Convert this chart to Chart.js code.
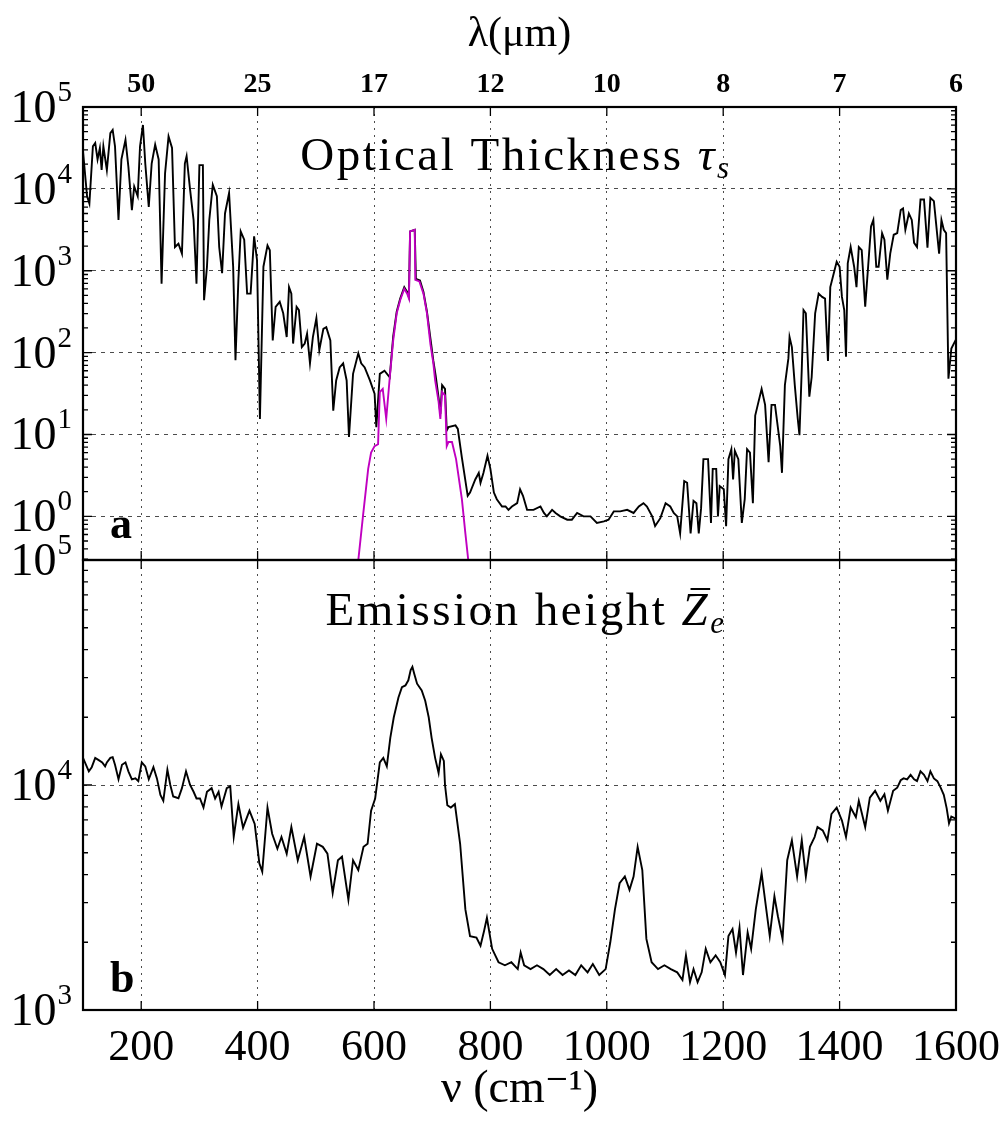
<!DOCTYPE html>
<html>
<head>
<meta charset="utf-8">
<script src="https://cdn.jsdelivr.net/npm/chart.js@4.4.0/dist/chart.umd.min.js"></script>
<style>
  html, body { margin: 0; padding: 0; background: #fff; }
  #wrap { position: relative; width: 1001px; height: 1122px; overflow: hidden; background: #fff; }
  #wrap canvas { position: absolute; left: 0; }
  #top { top: 0; }
  #bot { top: 520px; }
</style>
</head>
<body>
<div id="wrap">
  <canvas id="top" width="1001" height="562"></canvas>
  <canvas id="bot" width="1001" height="602"></canvas>
</div>
<script>
// wavenumber ticks (cm-1) and the matching wavelength labels (um) on the top axis
const nuTicks = [200, 400, 600, 800, 1000, 1200, 1400, 1600];
const lambdaLabels = ['50', '25', '17', '12', '10', '8', '7', '6'];
const tauDecades = [0, 1, 2, 3, 4, 5];
const zeDecades = [3, 4, 5];

// panel a: optical thickness, all gases (black)
const tauNu = [
  100, 107, 111, 117, 121, 125, 129, 132, 135, 141,
  147, 151, 155, 161, 166, 173, 178, 184, 188, 194,
  198, 203, 207, 213, 218, 224, 230, 235, 241, 247,
  253, 258, 264, 270, 275, 278, 284, 290, 295, 300,
  306, 308, 313, 317, 323, 330, 334, 339, 344, 351,
  358, 362, 367, 371, 377, 382, 388, 394, 399, 404,
  410, 417, 421, 426, 431, 438, 444, 450, 454, 458,
  461, 467, 471, 476, 481, 485, 490, 495, 501, 506,
  513, 518, 525, 530, 535, 541, 547, 553, 557, 564,
  573, 578, 584, 593, 601, 604, 610, 618, 627, 633,
  639, 645, 652, 657, 660, 662, 670, 672, 679, 685,
  691, 697, 702, 706, 711, 714, 717, 722, 725, 728,
  740, 744, 751, 761, 765, 774, 780, 783, 788, 795,
  800, 806, 811, 820, 826, 831, 837, 846, 851, 856,
  863, 874, 886, 892, 897, 906, 912, 920, 932, 940,
  949, 960, 972, 983, 995, 1003, 1012, 1023, 1035, 1046,
  1055, 1063, 1069, 1078, 1083, 1092, 1101, 1109, 1115, 1121,
  1126, 1133, 1138, 1144, 1149, 1154, 1158, 1162, 1166, 1174,
  1179, 1182, 1188, 1191, 1194, 1201, 1205, 1209, 1214, 1217,
  1220, 1226, 1232, 1237, 1241, 1246, 1251, 1255, 1260, 1266,
  1272, 1278, 1283, 1289, 1298, 1301, 1306, 1312, 1314, 1318,
  1323, 1328, 1331, 1335, 1338, 1342, 1346, 1348, 1352, 1358,
  1364, 1370, 1375, 1380, 1384, 1390, 1395, 1400, 1404, 1408,
  1411, 1414, 1419, 1425, 1429, 1433, 1438, 1444, 1449, 1454,
  1458, 1463, 1467, 1473, 1477, 1482, 1487, 1493, 1499, 1505,
  1509, 1513, 1519, 1524, 1528, 1533, 1539, 1545, 1551, 1556,
  1562, 1568, 1571, 1575, 1579, 1583, 1587, 1592, 1600
];
const tauVals = [
  28800, 8130, 6610, 33100, 36300, 22900, 31600, 17000, 33100, 17000,
  47900, 52500, 33100, 4170, 22900, 39800, 18600, 5500, 10700, 8130,
  33100, 60300, 20400, 6030, 20400, 34700, 22900, 692, 15500, 43700,
  31600, 1950, 2140, 1620, 20400, 25100, 9770, 4170, 692, 19500,
  19500, 437, 1120, 4170, 11200, 8130, 1950, 933, 5010, 8910,
  1120, 81, 776, 3020, 2400, 525, 525, 2630, 1350, 15.5,
  1120, 2040, 1780, 141, 363, 417, 302, 155, 631, 525,
  129, 363, 331, 117, 129, 170, 74, 155, 263, 107,
  195, 204, 141, 19.5, 45.7, 66, 74, 45.7, 9.3, 55,
  98, 74, 66, 45.7, 31.6, 12.3, 55, 60, 50, 158,
  316, 457, 631, 550, 479, 3020, 3160, 794, 759, 550,
  316, 148, 79, 52, 28, 17.8, 40, 36, 11.2, 12.3,
  12.9, 11.7, 5.2, 1.78, 1.95, 2.82, 3.39, 2.57, 3.39, 5.5,
  3.8, 1.95, 1.62, 1.32, 1.32, 1.2, 1.32, 1.45, 2.14, 1.78,
  1.2, 1.2, 1.32, 1.1, 1.0, 1.2, 1.1, 1.0, 0.91, 0.91,
  1.1, 1.0, 1.0, 0.83, 0.87, 0.91, 1.15, 1.15, 1.2, 1.1,
  1.32, 1.45, 1.32, 1.0, 0.76, 0.95, 1.45, 1.32, 1.1, 1.0,
  0.62, 2.69, 2.57, 0.62, 1.55, 1.45, 0.62, 1.26, 5.0, 5.0,
  0.83, 3.8, 3.8, 1.0, 2.34, 2.14, 0.76, 5.0, 6.6, 2.82,
  6.3, 5.0, 0.83, 1.62, 6.6, 6.0, 1.45, 17, 24, 36,
  23, 4.6, 23, 23, 7.2, 3.4, 40, 85, 155, 117,
  40, 15.8, 9.8, 63, 331, 302, 63, 29, 50, 302,
  525, 479, 457, 79, 631, 933, 1290, 1120, 479, 331,
  89, 1230, 1950, 1120, 631, 1950, 1780, 363, 1120, 3470,
  4170, 1120, 1120, 2880, 2400, 776, 1620, 2750, 2880, 5500,
  5750, 3160, 5010, 4170, 2190, 1950, 7410, 7410, 1910, 7760,
  7080, 2630, 1620, 4170, 3160, 2880, 48, 112, 145
];

// panel a: CO2 band alone (magenta)
const co2Nu = [
  573, 581, 590, 595, 601, 607, 610, 615, 621, 627,
  633, 639, 645, 652, 657, 660, 662, 670, 671, 678,
  685, 691, 697, 702, 705, 711, 714, 717, 722, 725,
  728, 734, 741, 751, 757, 762
];
const co2Vals = [
  0.29, 1.0, 3.8, 6.0, 7.2, 7.6, 33, 36, 15.5, 49,
  141, 302, 437, 603, 525, 457, 3020, 3160, 776, 741,
  525, 302, 126, 74, 46, 25, 15.5, 33, 30, 7.2,
  8.1, 8.1, 5.0, 1.62, 0.62, 0.29
];

// panel b: emission height
const zeNu = [
  100, 110, 115, 121, 127, 133, 138, 141, 147, 151,
  155, 161, 167, 173, 178, 184, 190, 195, 201, 207,
  213, 221, 227, 233, 238, 245, 250, 255, 264, 270,
  277, 284, 290, 295, 301, 307, 313, 321, 327, 333,
  338, 347, 353, 359, 367, 375, 386, 395, 403, 408,
  417, 425, 434, 441, 450, 458, 469, 480, 491, 502,
  512, 520, 529, 538, 545, 556, 564, 573, 582, 589,
  595, 602, 610, 616, 622, 628, 634, 642, 648, 654,
  659, 663, 666, 669, 674, 682, 688, 694, 699, 705,
  711, 715, 720, 722, 726, 732, 739, 748, 757, 765,
  776, 783, 789, 794, 803, 814, 825, 836, 847, 852,
  858, 869, 880, 891, 902, 913, 924, 935, 946, 956,
  967, 976, 987, 998, 1006, 1014, 1022, 1031, 1039, 1046,
  1053, 1061, 1068, 1077, 1088, 1099, 1110, 1121, 1130, 1136,
  1143, 1149, 1156, 1163, 1170, 1178, 1187, 1195, 1203, 1209,
  1216, 1222, 1228, 1234, 1242, 1248, 1256, 1266, 1274, 1280,
  1288, 1294, 1302, 1310, 1318, 1327, 1335, 1342, 1349, 1357,
  1362, 1371, 1379, 1386, 1395, 1404, 1411, 1419, 1428, 1433,
  1444, 1452, 1461, 1470, 1477, 1483, 1492, 1499, 1505, 1510,
  1516, 1522, 1528, 1533, 1539, 1545, 1551, 1556, 1562, 1568,
  1574, 1579, 1584, 1588, 1592, 1600
];
const zeVals = [
  13200, 11500, 12000, 13200, 12900, 12600, 12100, 12600, 13200, 13300,
  12300, 10600, 12300, 12600, 11500, 10600, 10700, 10400, 12600, 12100,
  10600, 12000, 10700, 9040, 8510, 11700, 10000, 8890, 8730, 9680,
  11500, 10000, 9330, 8710, 8710, 7940, 9330, 9680, 8710, 9330,
  8020, 9680, 9860, 5890, 8220, 6460, 7690, 6710, 4490, 4120,
  7940, 6070, 5210, 5870, 4950, 6500, 4630, 5870, 3920, 5480,
  5310, 4950, 3310, 4630, 4800, 3090, 4630, 4190, 5310, 5480,
  7690, 8710, 12600, 13200, 12100, 16200, 20000, 24500, 27200, 27700,
  29200, 32400, 33500, 31300, 28200, 26300, 23700, 20000, 16200, 13200,
  11300, 13700, 12800, 10000, 8130, 7940, 8220, 5480, 2800, 2130,
  2100, 1930, 2240, 2570, 1870, 1630, 1580, 1630, 1520, 1800,
  1580, 1520, 1580, 1520, 1430, 1520, 1430, 1500, 1430, 1580,
  1470, 1600, 1430, 1520, 2000, 2800, 3660, 3920, 3420, 3920,
  5310, 4190, 2070, 1630, 1520, 1580, 1520, 1470, 1360, 1750,
  1330, 1520, 1330, 1470, 1870, 1630, 1750, 1630, 1430, 2130,
  2290, 1800, 2320, 1430, 2210, 1870, 2800, 4060, 2800, 2130,
  3200, 2610, 2070, 4630, 5680, 3920, 5680, 3920, 5310, 5870,
  6500, 6280, 5680, 7430, 7940, 6950, 5870, 7940, 7190, 8510,
  6500, 8790, 9420, 8510, 9100, 7690, 9420, 9730, 10500, 10700,
  10600, 11100, 10600, 10400, 11500, 11100, 10400, 11500, 10700, 10400,
  9680, 9040, 7870, 6760, 7240, 7080
];

const SERIF = "'Liberation Serif', 'DejaVu Serif', serif";
const GRID = 'rgba(0,0,0,0.7)';

function pts(xs, ys) {
  return xs.map((v, i) => ({ x: v, y: ys[i] }));
}

function drawRich(ctx, parts, cx, base, spacing) {
  if ('letterSpacing' in ctx) ctx.letterSpacing = spacing + 'px';
  let w = 0;
  parts.forEach(p => { ctx.font = p.font; p.w = ctx.measureText(p.t).width; w += p.w; });
  let x = cx - w / 2;
  ctx.textAlign = 'left';
  ctx.textBaseline = 'alphabetic';
  parts.forEach(p => {
    ctx.font = p.font;
    ctx.fillText(p.t, x, base + (p.dy || 0));
    if (p.bar) ctx.fillRect(x + 9, base - 37, p.w - 9, 2);
    x += p.w;
  });
  if ('letterSpacing' in ctx) ctx.letterSpacing = '0px';
}

// frame, inward ticks, 10^n labels, panel title and letter
const panelPlugin = {
  id: 'panel',
  afterDraw(chart, args, o) {
    const { ctx, chartArea: a } = chart;
    const x = chart.scales.x, y = chart.scales.y;
    ctx.save();
    ctx.strokeStyle = '#000';
    ctx.lineWidth = 1.3;
    ctx.beginPath();
    nuTicks.forEach(v => {
      const px = x.getPixelForValue(v);
      ctx.moveTo(px, a.top); ctx.lineTo(px, a.top + 9);
      ctx.moveTo(px, a.bottom); ctx.lineTo(px, a.bottom - 9);
    });
    const e0 = Math.floor(Math.log10(y.min)), e1 = Math.ceil(Math.log10(y.max));
    for (let e = e0; e < e1; e++) {
      for (let m = 1; m < 10; m++) {
        const v = m * Math.pow(10, e);
        if (v < y.min || v > y.max) continue;
        const py = y.getPixelForValue(v);
        const len = m === 1 ? 9 : 5;
        ctx.moveTo(a.left, py); ctx.lineTo(a.left + len, py);
        ctx.moveTo(a.right, py); ctx.lineTo(a.right - len, py);
      }
    }
    ctx.stroke();
    ctx.lineWidth = 2.2;
    ctx.strokeRect(a.left, a.top, a.right - a.left, a.bottom - a.top);

    ctx.fillStyle = '#000';
    o.decades.forEach(n => {
      const py = y.getPixelForValue(Math.pow(10, n));
      ctx.textAlign = 'right';
      ctx.textBaseline = 'alphabetic';
      ctx.font = '29px ' + SERIF;
      const ew = ctx.measureText(String(n)).width;
      ctx.fillText(String(n), 72, py - 6);
      ctx.font = '46px ' + SERIF;
      ctx.fillText('10', 72 - ew - 1, py + 15);
    });

    drawRich(ctx, o.title, o.titleX, a.top + o.titleDy, 2.5);
    ctx.font = 'bold 44px ' + SERIF;
    ctx.textAlign = 'left';
    ctx.fillText(o.letter, 110, a.bottom - o.letterDy);
    ctx.restore();
  }
};

function xScale(position, extra) {
  return Object.assign({
    type: 'linear', position: position, min: 100, max: 1600,
    afterBuildTicks: s => { s.ticks = nuTicks.map(v => ({ value: v })); },
    grid: { color: GRID, lineWidth: 1, drawTicks: false },
    border: { display: false, dash: [2, 5] }
  }, extra);
}

function yScale(min, max, decades) {
  return {
    type: 'logarithmic', min: min, max: max,
    afterBuildTicks: s => { s.ticks = decades.map(n => ({ value: Math.pow(10, n) })); },
    afterFit: s => { s.width = 83; s.paddingTop = 0; s.paddingBottom = 0; },
    ticks: { display: false },
    grid: { color: GRID, lineWidth: 1, drawTicks: false },
    border: { display: false, dash: [4, 5] }
  };
}

const common = {
  responsive: false,
  animation: false,
  events: [],
  elements: { point: { radius: 0 }, line: { tension: 0, borderWidth: 1.9 } }
};

new Chart(document.getElementById('top'), {
  type: 'line',
  data: {
    datasets: [
      { data: pts(co2Nu, co2Vals), borderColor: '#c000c0' },
      { data: pts(tauNu, tauVals), borderColor: '#000' }
    ]
  },
  options: Object.assign({}, common, {
    layout: { padding: { left: 0, right: 45, top: 0, bottom: 2 } },
    plugins: {
      legend: { display: false },
      tooltip: { enabled: false },
      panel: {
        decades: tauDecades,
        title: [
          { t: 'Optical Thickness ', font: '47px ' + SERIF },
          { t: 'τ', font: 'italic 47px ' + SERIF },
          { t: 's', font: 'italic 31px ' + SERIF, dy: 8 }
        ],
        titleX: 516, titleDy: 63, letter: 'a', letterDy: 22
      }
    },
    scales: {
      x: xScale('top', {
        afterFit: s => { s.height = 107; s.paddingLeft = 0; s.paddingRight = 0; },
        ticks: {
          callback: (v, i) => lambdaLabels[i],
          font: { family: SERIF, size: 28, weight: 'bold' },
          color: '#000', padding: 5, maxRotation: 0, autoSkip: false
        },
        title: {
          display: true, text: 'λ(μm)', color: '#000',
          font: { family: SERIF, size: 42 }, padding: { top: 10, bottom: 0 }
        }
      }),
      y: yScale(0.293, 100000, tauDecades)
    }
  }),
  plugins: [panelPlugin]
});

new Chart(document.getElementById('bot'), {
  type: 'line',
  data: {
    datasets: [
      { data: pts(zeNu, zeVals), borderColor: '#000' }
    ]
  },
  options: Object.assign({}, common, {
    layout: { padding: { left: 0, right: 45, top: 40, bottom: 0 } },
    plugins: {
      legend: { display: false },
      tooltip: { enabled: false },
      panel: {
        decades: zeDecades,
        title: [
          { t: 'Emission height ', font: '47px ' + SERIF },
          { t: 'Z', font: 'italic 47px ' + SERIF, bar: true },
          { t: 'e', font: 'italic 31px ' + SERIF, dy: 8 }
        ],
        titleX: 526, titleDy: 65, letter: 'b', letterDy: 18
      }
    },
    scales: {
      x: xScale('bottom', {
        afterFit: s => { s.height = 112; s.paddingLeft = 0; s.paddingRight = 0; },
        ticks: {
          callback: v => String(v),
          font: { family: SERIF, size: 44 },
          color: '#000', padding: 12, maxRotation: 0, autoSkip: false
        },
        title: {
          display: true, text: 'ν (cm⁻¹)', color: '#000',
          font: { family: SERIF, size: 46 }, padding: { top: 0, bottom: 4 }
        }
      }),
      y: yScale(1000, 100000, zeDecades)
    }
  }),
  plugins: [panelPlugin]
});
</script>
</body>
</html>
